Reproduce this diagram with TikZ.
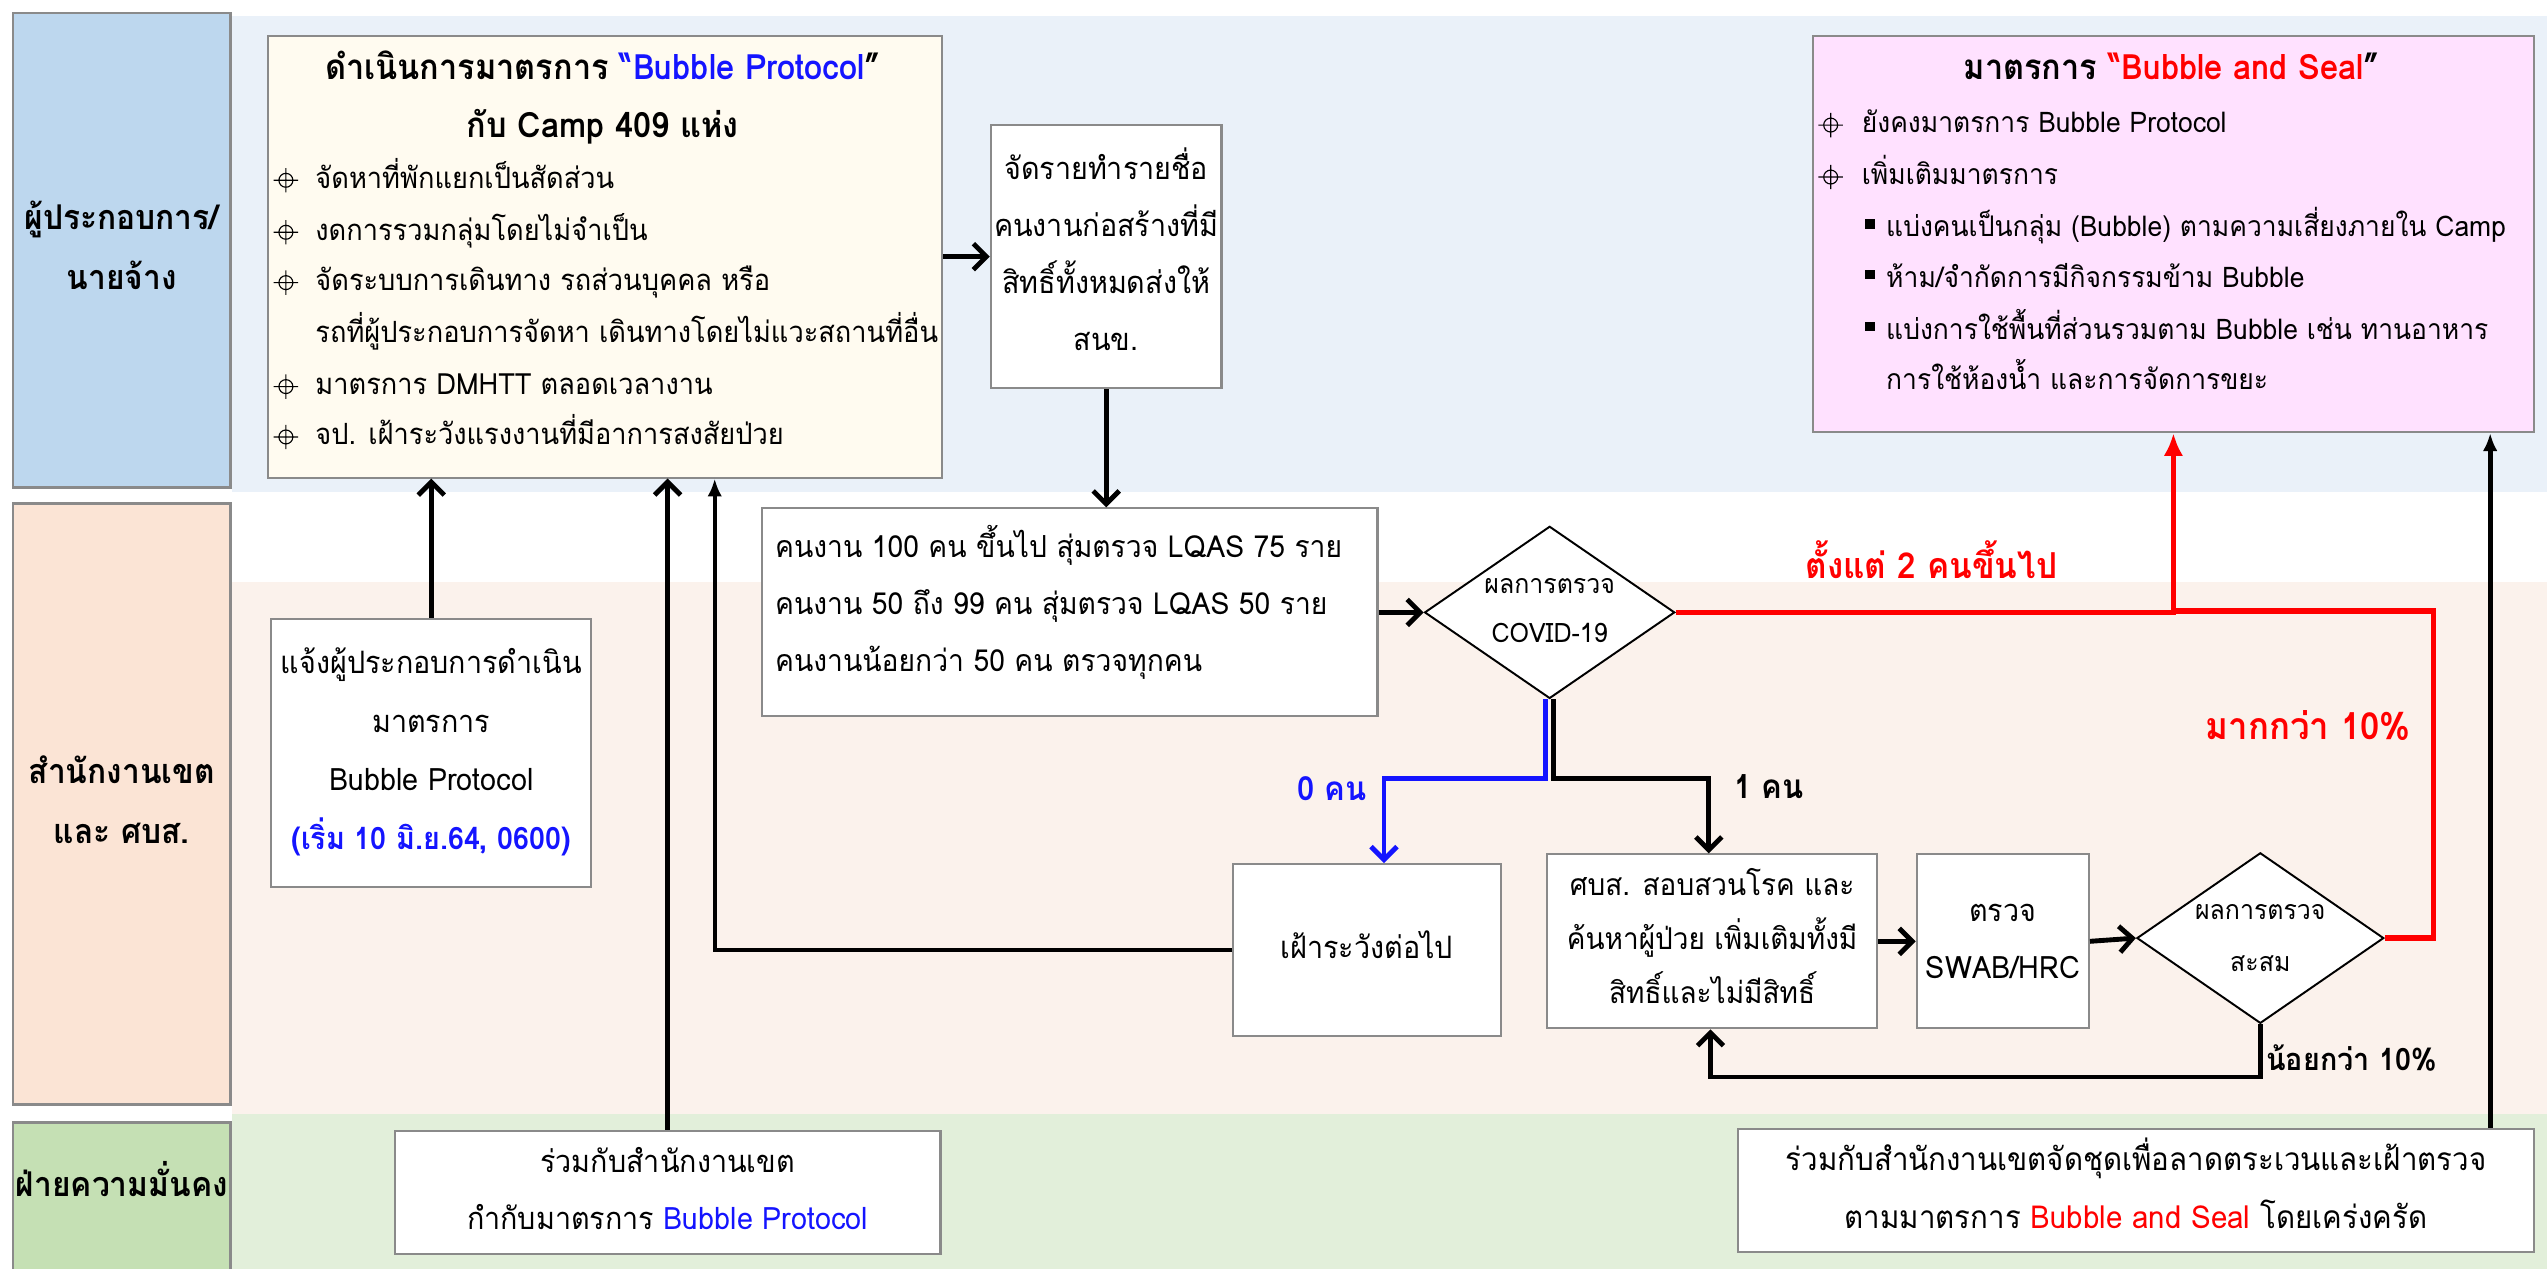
\documentclass[tikz,border=0pt]{standalone}
\usepackage{fontspec}
\setmainfont[Script=Thai,FakeStretch=0.93]{Loma}
\usetikzlibrary{arrows.meta,shapes.geometric}
\definecolor{bandA}{HTML}{EAF1F9}
\definecolor{bandB}{HTML}{FBF2EC}
\definecolor{bandC}{HTML}{E2EFDA}
\definecolor{labA}{HTML}{BDD7EE}
\definecolor{labB}{HTML}{FBE4D5}
\definecolor{labC}{HTML}{C5E0B4}
\definecolor{bord}{HTML}{8A8A8A}
\definecolor{cream}{HTML}{FFFBF0}
\definecolor{pinkbox}{HTML}{FFE1FF}
\definecolor{myblue}{HTML}{1414FF}
\definecolor{myred}{HTML}{FF0000}
\newcommand\fsz[2]{\fontsize{#1}{#2}\selectfont}
\newcommand\sv{\rule[-0.5em]{0pt}{1.55em}}
\newcommand\nl{\\\sv}
\begin{document}
\begin{tikzpicture}[x=1pt,y=-1pt,
  box/.style={draw=bord,line width=1.3pt,fill=white,inner sep=0pt,align=center},
  lab/.style={draw=bord,line width=1.6pt,inner sep=0pt,align=center,font=\bfseries\fsz{21}{37}},
  txt/.style={inner sep=0pt,align=center},
  ln/.style={anchor=west,inner sep=0pt,font=\fsz{18}{20}},
  lnE/.style={anchor=west,inner sep=0pt,font=\fsz{17.5}{20}},
  dia/.style={diamond,draw=black,line width=1.2pt,fill=white,aspect=1.45,inner sep=0pt,minimum width=154,minimum height=106},
  conn/.style={line width=3pt,-{Straight Barb[length=8pt,width=16pt]}},
  connB/.style={conn,draw=myblue},
  connS/.style={line width=3pt,-{Latex[length=11pt,width=9pt]}},
  connR/.style={line width=3.4pt,draw=myred,-{Latex[length=14pt,width=12pt]}},
  lineR/.style={line width=3.4pt,draw=myred},
  xhair/.pic={\draw[line width=0.7pt] (0,0) circle (4.3) (-7.5,0)--(7.5,0) (0,-7.5)--(0,7.5);},
  sq/.pic={\fill (-3,-3) rectangle (3,3);}
]
\useasboundingbox (0,0) rectangle (1568,781);
\fill[white] (0,0) rectangle (1568,781);
\fill[bandA] (143,10) rectangle (1568,303);
\fill[bandB] (143,358) rectangle (1568,686);
\fill[bandC] (143,686) rectangle (1568,781);

% lane labels
\node[lab,fill=labA,minimum width=134,minimum height=292] (L1) at (75,154) {\sv ผู้ประกอบการ/\nl นายจ้าง};
\node[lab,fill=labB,minimum width=134,minimum height=370] (L2) at (75,495) {\sv สำนักงานเขต\nl และ ศบส.};
\node[lab,fill=labC,minimum width=134,minimum height=100] (L3) at (75,741) {};
\node[txt,font=\bfseries\fsz{21}{37}] (L3t) at (75,731) {\sv ฝ่ายความมั่นคง};

% box A
\node[box,fill=cream,minimum width=415,minimum height=272] (A) at (372.5,158) {};
\node[txt,font=\bfseries\fsz{21.5}{36}] (At) at (371,61) {\sv ดำเนินการมาตรการ \textcolor{myblue}{“Bubble Protocol}”\nl กับ Camp 409 แห่ง};
\pic at (176,111) {xhair};
\node[ln] (a1) at (194,111) {\sv จัดหาที่พักแยกเป็นสัดส่วน};
\pic at (176,143) {xhair};
\node[ln] (a2) at (194,143) {\sv งดการรวมกลุ่มโดยไม่จำเป็น};
\pic at (176,174) {xhair};
\node[ln] (a3) at (194,174) {\sv จัดระบบการเดินทาง รถส่วนบุคคล หรือ};
\node[ln] (a3b) at (194,206) {\sv รถที่ผู้ประกอบการจัดหา เดินทางโดยไม่แวะสถานที่อื่น};
\pic at (176,238) {xhair};
\node[ln] (a4) at (194,238) {\sv มาตรการ DMHTT ตลอดเวลางาน};
\pic at (176,269) {xhair};
\node[ln] (a5) at (194,269) {\sv จป. เฝ้าระวังแรงงานที่มีอาการสงสัยป่วย};

% box B
\node[box,minimum width=142,minimum height=162,font=\fsz{19}{35}] (B) at (681,158) {\sv จัดรายทำรายชื่อ\nl คนงานก่อสร้างที่มี\nl สิทธิ์ทั้งหมดส่งให้\nl สนข.};

% box E
\node[box,fill=pinkbox,minimum width=444,minimum height=244] (E) at (1338,144) {};
\node[txt,font=\bfseries\fsz{21.5}{36}] (Et) at (1337,43) {\sv มาตรการ \textcolor{myred}{“Bubble and Seal}”};
\pic at (1127,77) {xhair};
\node[lnE] (e1) at (1146,77) {\sv ยังคงมาตรการ Bubble Protocol};
\pic at (1127,109) {xhair};
\node[lnE] (e2) at (1146,109) {\sv เพิ่มเติมมาตรการ};
\pic at (1151,138) {sq};
\node[lnE] (e3) at (1161,141) {\sv แบ่งคนเป็นกลุ่ม (Bubble) ตามความเสี่ยงภายใน Camp};
\pic at (1151,169) {sq};
\node[lnE] (e4) at (1161,172) {\sv ห้าม/จำกัดการมีกิจกรรมข้าม Bubble};
\pic at (1151,201) {sq};
\node[lnE] (e5) at (1161,204) {\sv แบ่งการใช้พื้นที่ส่วนรวมตาม Bubble เช่น ทานอาหาร};
\node[lnE] (e5b) at (1161,235) {\sv การใช้ห้องน้ำ และการจัดการขยะ};

% box C
\node[box,minimum width=379,minimum height=128] (C) at (658.5,377) {};
\node[txt,align=left,anchor=west,font=\fsz{18.7}{35}] (Ct) at (477,373) {\sv คนงาน 100 คน ขึ้นไป สุ่มตรวจ LQAS 75 ราย\nl คนงาน 50 ถึง 99 คน สุ่มตรวจ LQAS 50 ราย\nl คนงานน้อยกว่า 50 คน ตรวจทุกคน};

% diamond D
\node[dia] (D) at (954,377) {};
\node[txt,font=\fsz{16.5}{30}] (Dt) at (954,376) {\sv ผลการตรวจ\nl COVID-19};

% box F
\node[box,minimum width=197,minimum height=165,font=\fsz{19}{36}] (F) at (265.5,463.5) {\sv แจ้งผู้ประกอบการดำเนิน\nl มาตรการ\nl Bubble Protocol\nl \textcolor{myblue}{\bfseries (เริ่ม 10 มิ.ย.64, 0600)}};

% box G
\node[box,minimum width=165,minimum height=106,font=\fsz{19}{35}] (G) at (841.5,585) {\sv เฝ้าระวังต่อไป};

% box I
\node[box,minimum width=203,minimum height=107,font=\fsz{18.5}{33}] (I) at (1054,579.5) {\sv ศบส. สอบสวนโรค และ\nl ค้นหาผู้ป่วย เพิ่มเติมทั้งมี\nl สิทธิ์และไม่มีสิทธิ์};

% box J
\node[box,minimum width=106,minimum height=107,font=\fsz{19}{35}] (J) at (1233,579.5) {\sv ตรวจ\nl SWAB/HRC};

% diamond K
\node[dia,minimum width=152,minimum height=105] (K) at (1391.5,577.5) {};
\node[txt,font=\fsz{16.5}{32}] (Kt) at (1391.5,577.5) {\sv ผลการตรวจ\nl สะสม};

% box L and M
\node[box,minimum width=336,minimum height=76,font=\fsz{19}{35}] (L) at (411,734) {\sv ร่วมกับสำนักงานเขต\nl กำกับมาตรการ \textcolor{myblue}{Bubble Protocol}};
\node[box,minimum width=490,minimum height=76,font=\fsz{19.5}{36}] (M) at (1315,733) {\sv ร่วมกับสำนักงานเขตจัดชุดเพื่อลาดตระเวนและเฝ้าตรวจ\nl ตามมาตรการ \textcolor{myred}{Bubble and Seal} โดยเคร่งครัด};

% coordinates
\coordinate (ga) at (440,586);
\coordinate (bj) at (852,479);
\coordinate (kj) at (1052,479);
\coordinate (kl) at (1053,663);
\coordinate (rk) at (1498,376);
\coordinate (me) at (1533,0);

% connectors
\draw[conn] (A.east) -- (B.west);
\draw[conn] (B.south) -- (B.south |- C.north);
\draw[conn] (C.east) -- (D.west);
\draw[connR] (D.east) -| (E.south);
\draw[lineR] (K.east) -| (rk) -- (rk -| E.south);
\draw[connB] ([xshift=-2.5pt]D.south) |- (bj) -- (bj |- G.north);
\draw[conn] ([xshift=2.5pt]D.south) |- (kj) -- (kj |- I.north);
\draw[connS,line width=2.6pt] (G.west) -| (ga |- A.south);
\draw[conn] (F.north) -- (F.north |- A.south);
\draw[conn] (L.north) -- (L.north |- A.south);
\draw[connS] (me |- M.north) -- (me |- E.south);
\draw[conn] (I.east) -- (J.west);
\draw[conn] (J.east) -- (K.west);
\draw[conn] (K.south) |- (kl) -- (kl |- I.south);

% edge labels
\node[txt,font=\bfseries\fsz{22}{20},text=myred] (lb1) at (1189,350) {\sv ตั้งแต่ 2 คนขึ้นไป};
\node[txt,font=\bfseries\fsz{23}{20},text=myred] (lb2) at (1421,449) {\sv มากกว่า 10\%};
\node[txt,font=\bfseries\fsz{20.5}{20},text=myblue] (lb3) at (820,487) {\sv 0 คน};
\node[txt,font=\bfseries\fsz{20.5}{20}] (lb4) at (1089,486) {\sv 1 คน};
\node[txt,anchor=west,font=\bfseries\fsz{19}{20}] (lb5) at (1395,654) {\sv น้อยกว่า 10\%};
\end{tikzpicture}
\end{document}
